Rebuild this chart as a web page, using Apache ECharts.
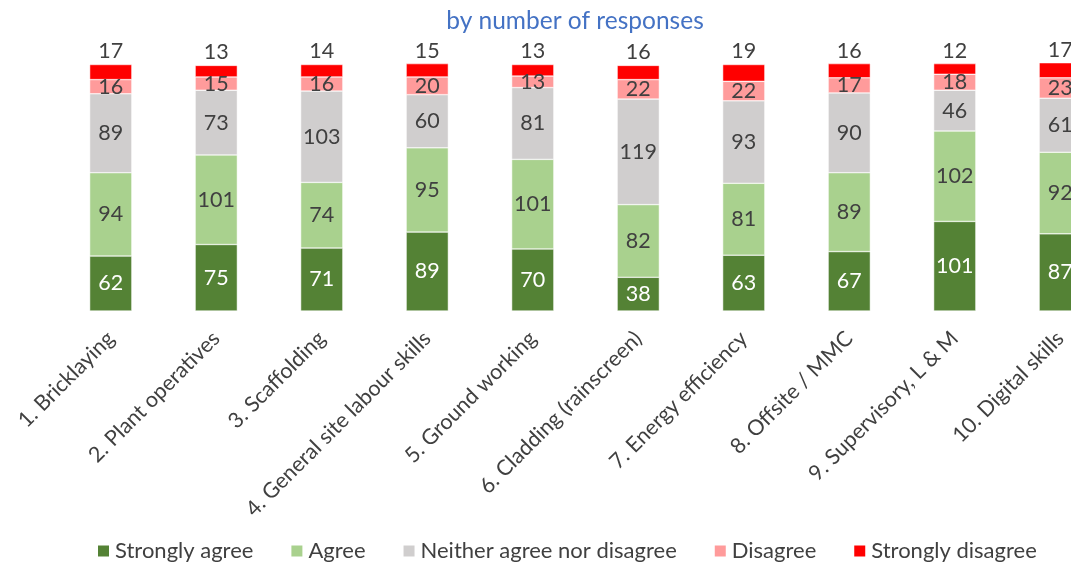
<!DOCTYPE html>
<html><head><meta charset="utf-8">
<script src="https://cdn.jsdelivr.net/npm/echarts@6/dist/echarts.min.js"></script>
<style>html,body{margin:0;padding:0;background:#fff}#c{width:1071px;height:566px}</style>
</head><body><div id="c"></div>
<script>
const categories = ["1. Bricklaying","2. Plant operatives","3. Scaffolding","4. General site labour skills","5. Ground working","6. Cladding (rainscreen)","7. Energy efficiency","8. Offsite / MMC","9. Supervisory, L & M","10. Digital skills"];
const stronglyAgree = [62,75,71,89,70,38,63,67,101,87];
const agree = [94,101,74,95,101,82,81,89,102,92];
const neither = [89,73,103,60,81,119,93,90,46,61];
const disagree = [16,15,16,20,13,22,22,17,18,23];
const stronglyDisagree = [17,13,14,15,13,16,19,16,12,17];
const seriesNames = ["Strongly agree","Agree","Neither agree nor disagree","Disagree","Strongly disagree"];
const seriesColors = ["#548235","#A9D18E","#D0CECE","#FF9B9B","#FF0000"];
const FONT = "Lato";
const dataSets = [stronglyAgree, agree, neither, disagree, stronglyDisagree];
const series = dataSets.map((d,i)=>({
  name: seriesNames[i], type:'bar', stack:'total', data:d, barWidth:'40%',
  itemStyle:{color:seriesColors[i], borderColor:'#fff', borderWidth:0.5},
  label:{show:true, position: i===4?'top':'inside', distance: 2,
    color: i===0?'#ffffff':'#404040', fontSize:21.5, fontFamily:FONT}
}));
const chart = echarts.init(document.getElementById('c'));
chart.setOption({
  animation:false,
  title:{text:'by number of responses', left:570, top:4, textAlign:'center',
    textStyle:{color:'#4472C4', fontSize:24.5, fontWeight:'normal', fontFamily:FONT}},
  legend:{bottom:4, left:96, padding:0, itemWidth:13, itemHeight:13, itemGap:36, icon:'rect',
    textStyle:{color:'#404040', fontSize:22, fontFamily:FONT}},
  grid:{left:58, width:1055, top:45, height:266, containLabel:false, outerBoundsMode:'none'},
  xAxis:{type:'category', data:categories,
    axisLine:{show:false}, axisTick:{show:false},
    axisLabel:{rotate:45, margin:24, interval:0, color:'#404040', fontSize:21.5, fontFamily:FONT, hideOverlap:false}},
  yAxis:{type:'value', min:0, max:300, show:false, splitLine:{show:false}},
  series:series
});
</script></body></html>
